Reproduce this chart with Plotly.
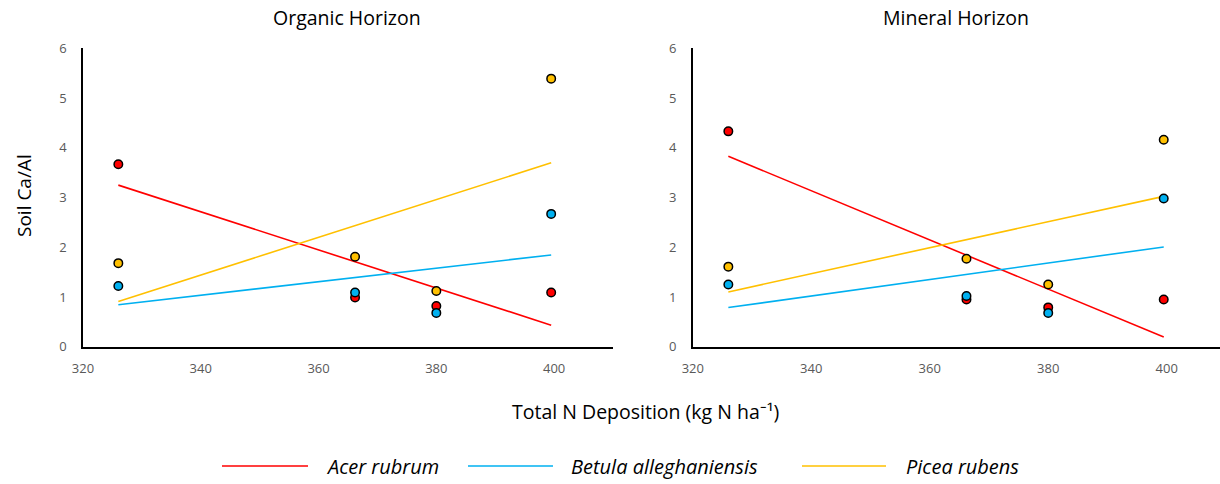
import numpy as np
import plotly.graph_objects as go

# Total N deposition at the four sites (kg N ha-1)
n_deposition = [326.0, 366.2, 380.0, 399.5]

species = ["Acer rubrum", "Betula alleghaniensis", "Picea rubens"]
colors = ["#FF0000", "#00B0F0", "#FFC000"]

# Soil Ca/Al ratio, organic horizon
organic_acer = [3.67, 0.99, 0.82, 1.09]
organic_betula = [1.22, 1.09, 0.68, 2.67]
organic_picea = [1.68, 1.81, 1.12, 5.39]

# Soil Ca/Al ratio, mineral horizon
mineral_acer = [4.33, 0.95, 0.79, 0.95]
mineral_betula = [1.25, 1.02, 0.68, 2.98]
mineral_picea = [1.61, 1.77, 1.25, 4.16]

panels = [
    ("Organic Horizon", [organic_acer, organic_betula, organic_picea], "x", "y"),
    ("Mineral Horizon", [mineral_acer, mineral_betula, mineral_picea], "x2", "y2"),
]

x_ticks = [320, 340, 360, 380, 400]
y_ticks = [0, 1, 2, 3, 4, 5, 6]

W, H = 1220, 484
FONT = "Open Sans"
TICK_COLOR = "#595959"

fig = go.Figure()

for title, series, xa, ya in panels:
    # least-squares trend line for each species
    for name, vals, col in zip(species, series, colors):
        x = np.array(n_deposition)
        y = np.array(vals)
        slope, intercept = np.polyfit(x, y, 1)
        xs = np.array([x.min(), x.max()])
        fig.add_trace(go.Scatter(
            x=xs, y=slope * xs + intercept, mode="lines",
            line=dict(color=col, width=1.6), xaxis=xa, yaxis=ya,
            showlegend=False, hoverinfo="skip"))
    for name, vals, col in zip(species, series, colors):
        fig.add_trace(go.Scatter(
            x=n_deposition, y=vals, mode="markers", name=name,
            marker=dict(color=col, size=8.5, line=dict(color="#000000", width=1.5)),
            xaxis=xa, yaxis=ya, showlegend=False))

y_dom = [(H - 346.7) / H, (H - 48.3) / H]

axis_common = dict(
    showgrid=False, zeroline=False, showline=True, linecolor="#000000",
    linewidth=1.5, ticks="", automargin=False,
    tickfont=dict(family=FONT, size=13, color=TICK_COLOR),
)

fig.update_layout(
    template="none",
    width=W, height=H,
    margin=dict(l=0, r=0, t=0, b=0, pad=0, autoexpand=False),
    paper_bgcolor="#FFFFFF", plot_bgcolor="#FFFFFF",
    font=dict(family=FONT, color="#000000"),
    showlegend=False,
    xaxis=dict(domain=[83 / W, 613 / W], range=[320, 410], tickvals=x_ticks,
               anchor="y", ticklabelstandoff=9, **axis_common),
    yaxis=dict(domain=y_dom, range=[0, 6], tickvals=y_ticks, anchor="x",
               ticklabelstandoff=12, **axis_common),
    xaxis2=dict(domain=[692.8 / W, 1.0], range=[320, 409], tickvals=x_ticks,
                anchor="y2", ticklabelstandoff=9, **axis_common),
    yaxis2=dict(domain=y_dom, range=[0, 6], tickvals=y_ticks, anchor="x2",
                ticklabelstandoff=12, **axis_common),
)

# Panel titles
for (title, _, _, _), cx in zip(panels, [347, 956]):
    fig.add_annotation(x=cx / W, y=1 - 17 / H, xref="paper", yref="paper",
                       xanchor="center", yanchor="middle",
                       text=title, showarrow=False,
                       font=dict(family=FONT, size=19.5, color="#000000"))

# Shared axis titles
fig.add_annotation(x=645 / W, y=1 - 411 / H, xref="paper", yref="paper",
                   xanchor="center", yanchor="middle",
                   text="Total N Deposition (kg N ha\u207b\u00b9)", showarrow=False,
                   font=dict(family=FONT, size=19.5, color="#000000"))
fig.add_annotation(x=24 / W, y=1 - 196 / H, xref="paper", yref="paper",
                   xanchor="center", yanchor="middle",
                   text="Soil Ca/Al", showarrow=False, textangle=-90,
                   font=dict(family=FONT, size=19, color="#000000"))

# Legend: line sample followed by italic species name
legend_y = 1 - 466 / H
legend_items = [(222, 308, 324), (468, 553, 569), (802, 886, 904)]
for (x0, x1, xt), name, col in zip(legend_items, species, colors):
    fig.add_shape(type="line", xref="paper", yref="paper",
                  x0=x0 / W, x1=x1 / W, y0=legend_y, y1=legend_y,
                  line=dict(color=col, width=1.6))
    fig.add_annotation(x=xt / W, y=legend_y, xref="paper", yref="paper",
                       xanchor="left", yanchor="middle",
                       text="<i>" + name + "</i>", showarrow=False,
                       font=dict(family=FONT, size=20, color="#000000"))

fig.write_html("out.html")
